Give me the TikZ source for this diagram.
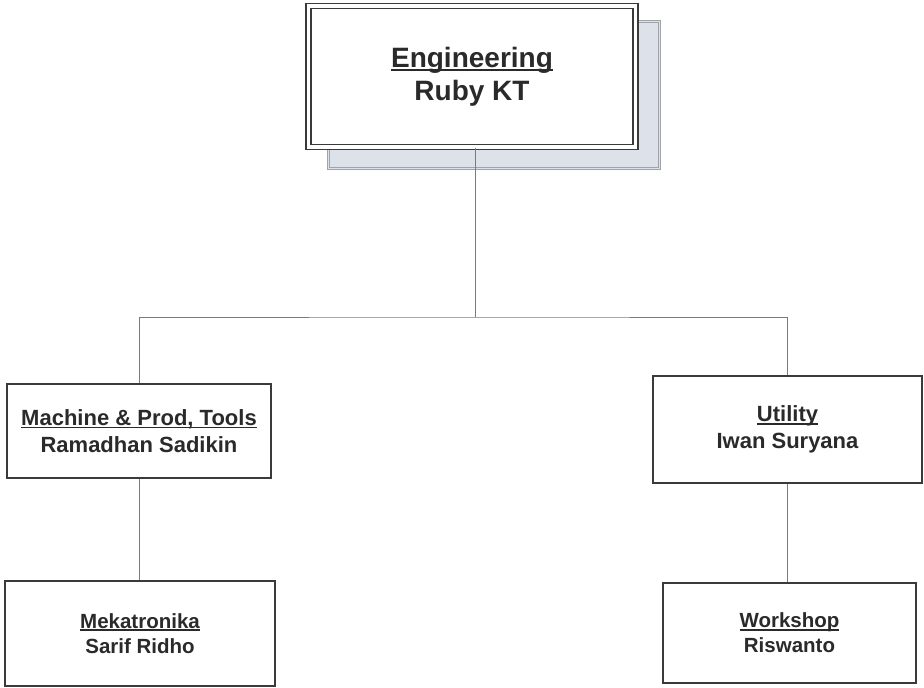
\documentclass[tikz,border=0pt]{standalone}
\usepackage{fontspec}
\setmainfont{Liberation Sans}
\definecolor{txt}{HTML}{2A2A2A}
\definecolor{bord}{HTML}{3A3A3A}
\definecolor{connc}{HTML}{7A7A7A}
\definecolor{shadowfill}{HTML}{DDE2EA}
\definecolor{shadowline}{HTML}{A0A4A8}
\newcommand{\ulx}[1]{\setbox0\hbox{#1}\rlap{\rule[-0.14em]{\wd0}{0.085em}}\box0}
\begin{document}
\begin{tikzpicture}[x=1pt,y=-1pt,
  box/.style={draw=bord, line width=1.4pt, fill=white, inner sep=0pt, text=txt, align=center},
  topbox/.style={box, line width=1.5pt, double=white, double distance=3.5pt, font={\bfseries\fontsize{28}{33}\selectfont}},
  shadowbox/.style={draw=shadowline, line width=0.6pt, fill=shadowfill, double=shadowfill, double distance=1.2pt, inner sep=0pt},
  midbox/.style={box, font={\bfseries\fontsize{22}{27}\selectfont}},
  lowbox/.style={box, font={\bfseries\fontsize{20.5}{25}\selectfont}},
  connline/.style={draw=connc, line width=0.9pt}]
\useasboundingbox (0,0) rectangle (924,688);
\fill[white] (0,0) rectangle (924,688);
\node[shadowbox, minimum width=331pt, minimum height=147pt] (topshadow) at (494,95) {};
\node[topbox, minimum width=327pt, minimum height=141pt] (top) at (472,76.5) {\ulx{Engineering}\\Ruby KT};
\node[midbox, minimum width=264pt, minimum height=94pt] (mach) at (139,431) {\ulx{Machine \& Prod, Tools}\\Ramadhan Sadikin};
\node[midbox, minimum width=269pt, minimum height=107pt] (util) at (787.5,429.5) {\ulx{Utility}\\Iwan Suryana};
\node[lowbox, minimum width=270pt, minimum height=105pt] (mek) at (140,633.5) {\ulx{Mekatronika}\\Sarif Ridho};
\node[lowbox, minimum width=253pt, minimum height=100pt] (work) at (789.5,633) {\ulx{Workshop}\\Riswanto};
\coordinate (j) at (475,317);
\draw[connline] (top.south -| j) -- (j);
\draw[connline] (mach.north) |- (j) -| (util.north);
\draw[connline] (mach.south) -- (mach.south |- mek.north);
\draw[connline] (util.south) -- (util.south |- work.north);
\end{tikzpicture}
\end{document}
